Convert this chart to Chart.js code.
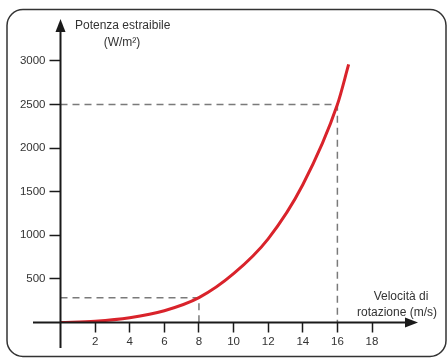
<!DOCTYPE html>
<html>
<head>
<meta charset="utf-8">
<script src="https://cdn.jsdelivr.net/npm/chart.js@4/dist/chart.umd.min.js"></script>
<style>
  html, body { margin: 0; padding: 0; background: #fff; }
  #wrap { width: 447px; height: 359px; }
</style>
</head>
<body>
<div id="wrap"><canvas id="powerChart"></canvas></div>
<script>
// Velocità di rotazione (m/s) e potenza estraibile (W/m2)
const speeds = [0, 2, 4, 6, 8, 10, 12, 14, 16, 16.65];
const power = [0, 15, 55, 135, 285, 560, 960, 1580, 2500, 2960];

// linee tratteggiate di riferimento
const guideSpeeds = [8, 16];
const guidePower = [285, 2500];

// tacche degli assi
const xTicks = [2, 4, 6, 8, 10, 12, 14, 16, 18];
const yTicks = [500, 1000, 1500, 2000, 2500, 3000];

const axisColor = '#1a1a1a';
const textColor = '#333';
const fontFamily = 'Liberation Sans, Arial, sans-serif';
const tickFont = { family: fontFamily, size: 11.5 };

const curve = speeds.map((s, i) => ({ x: s, y: power[i] }));

const guides = guideSpeeds.map((s, i) => ({
    data: [{ x: 0, y: guidePower[i] }, { x: s, y: guidePower[i] }, { x: s, y: 0 }],
    borderColor: '#7a7a7a',
    borderWidth: 1.5,
    borderDash: [7, 5],
    pointRadius: 0,
    tension: 0,
    fill: false
}));

// cornice, prolungamenti degli assi, frecce e titoli
const decorations = {
    id: 'decorations',
    beforeDraw(chart) {
        const c = chart.ctx;
        c.save();
        c.strokeStyle = '#333';
        c.lineWidth = 1.5;
        c.beginPath();
        c.roundRect(7, 9.5, 439, 347, 16);
        c.stroke();
        c.restore();
    },
    afterDraw(chart) {
        const c = chart.ctx;
        const xs = chart.scales.x, ys = chart.scales.y;
        const x0 = xs.getPixelForValue(0), y0 = ys.getPixelForValue(0);
        const area = chart.chartArea;
        c.save();
        c.strokeStyle = axisColor;
        c.fillStyle = axisColor;
        c.lineWidth = 2;
        c.beginPath();
        c.moveTo(33, y0); c.lineTo(area.right - 6, y0);
        c.moveTo(x0, area.top + 6); c.lineTo(x0, 348);
        c.stroke();
        // frecce
        c.beginPath();
        c.moveTo(x0, area.top - 1); c.lineTo(x0 - 5, area.top + 12); c.lineTo(x0 + 5, area.top + 12);
        c.closePath(); c.fill();
        c.beginPath();
        c.moveTo(area.right + 1, y0); c.lineTo(area.right - 12, y0 - 5); c.lineTo(area.right - 12, y0 + 5);
        c.closePath(); c.fill();
        // titoli
        c.font = '12px ' + fontFamily;
        c.fillStyle = textColor;
        c.textBaseline = 'middle';
        c.textAlign = 'left';
        c.fillText('Potenza estraibile', 75, 26);
        c.textAlign = 'center';
        c.fillText('(W/m\u00B2)', 122, 43);
        c.fillText('Velocità di', 401, 297);
        c.fillText('rotazione (m/s)', 397, 313);
        c.restore();
    }
};

const ctx = document.getElementById('powerChart').getContext('2d');
const chart = new Chart(ctx, {
    type: 'line',
    data: {
        datasets: [{
            data: curve,
            borderColor: '#d9232b',
            borderWidth: 3,
            pointRadius: 0,
            cubicInterpolationMode: 'monotone',
            fill: false
        }, ...guides]
    },
    options: {
        responsive: true,
        maintainAspectRatio: false,
        animation: false,
        events: [],
        layout: { padding: { left: 8, right: 30, top: 20, bottom: 6.5 } },
        plugins: { legend: { display: false }, tooltip: { enabled: false } },
        scales: {
            x: {
                type: 'linear',
                min: 0,
                max: 20.6,
                afterBuildTicks: s => { s.ticks = xTicks.map(v => ({ value: v })); },
                afterFit: s => { s.height = 30; },
                border: { display: false },
                grid: { drawOnChartArea: false, tickLength: 10, color: axisColor, tickWidth: 1.5 },
                ticks: { color: textColor, font: tickFont, padding: 2, maxRotation: 0, callback: v => String(v) }
            },
            y: {
                type: 'linear',
                min: 0,
                max: 3470,
                afterBuildTicks: s => { s.ticks = yTicks.map(v => ({ value: v })); },
                afterFit: s => { s.width = 52.5; },
                border: { display: false },
                grid: { drawOnChartArea: false, tickLength: 11, color: axisColor, tickWidth: 1.5 },
                ticks: { color: textColor, font: tickFont, padding: 4, callback: v => String(v) }
            }
        }
    },
    plugins: [decorations]
});
</script>
</body>
</html>
